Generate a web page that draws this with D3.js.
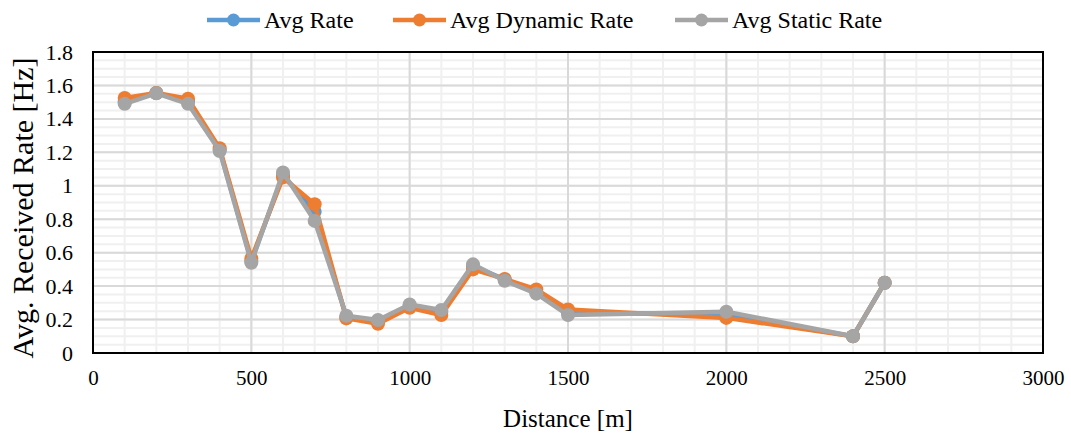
<!DOCTYPE html>
<html>
<head>
<meta charset="utf-8">
<script src="https://cdn.jsdelivr.net/npm/d3@7"></script>
<style>
  body { margin: 0; background: #fff; }
  svg text { font-family: "Liberation Serif", "Times New Roman", serif; fill: #000; }
</style>
</head>
<body>
<svg id="chart" width="1071" height="435"></svg>
<script>
// distances in metres
var distances = [100, 200, 300, 400, 500, 600, 700, 800, 900, 1000, 1100, 1200, 1300, 1400, 1500, 2000, 2400, 2500];
var avgRate = [1.50, 1.555, 1.505, 1.215, 0.55, 1.065, 0.845, 0.215, 0.19, 0.28, 0.245, 0.52, 0.44, 0.365, 0.24, 0.23, 0.10, 0.42];
var avgDynamicRate = [1.525, 1.555, 1.52, 1.225, 0.565, 1.05, 0.89, 0.207, 0.175, 0.27, 0.227, 0.50, 0.443, 0.38, 0.26, 0.21, 0.10, 0.42];
var avgStaticRate = [1.49, 1.553, 1.49, 1.208, 0.54, 1.08, 0.79, 0.223, 0.197, 0.29, 0.257, 0.53, 0.432, 0.355, 0.227, 0.247, 0.10, 0.42];
var xTicks = [0, 500, 1000, 1500, 2000, 2500, 3000];
var yTicks = [0, 0.2, 0.4, 0.6, 0.8, 1, 1.2, 1.4, 1.6, 1.8];
var seriesNames = ['Avg Rate', 'Avg Dynamic Rate', 'Avg Static Rate'];

var colors = ['#5B9BD5', '#ED7D31', '#A5A5A5'];
var series = [avgRate, avgDynamicRate, avgStaticRate].map(function (v, i) {
    return {name: seriesNames[i], values: v, color: colors[i]};
});

var svg = d3.select('#chart');
var plot = {left: 93, right: 1043, top: 52, bottom: 353};
var serif = '"Liberation Serif", "Times New Roman", serif';

var xs = d3.scaleLinear().domain([0, 3000]).range([plot.left, plot.right]);
var ys = d3.scaleLinear().domain([0, 1.8]).range([plot.bottom, plot.top]);

var grid = svg.append('g');
function vlines(vals, color) {
    grid.append('g').selectAll('line').data(vals).enter().append('line')
        .attr('x1', function (d) { return xs(d); }).attr('x2', function (d) { return xs(d); })
        .attr('y1', plot.top).attr('y2', plot.bottom)
        .style('stroke', color).style('stroke-width', 2);
}
function hlines(vals, color) {
    grid.append('g').selectAll('line').data(vals).enter().append('line')
        .attr('x1', plot.left).attr('x2', plot.right)
        .attr('y1', function (d) { return ys(d); }).attr('y2', function (d) { return ys(d); })
        .style('stroke', color).style('stroke-width', 2);
}
// minor grid, then major
vlines(xs.ticks(30), '#F0F0F0');
hlines(ys.ticks(36), '#F0F0F0');
vlines(xTicks, '#D9D9D9');
hlines(yTicks, '#D9D9D9');

// frame
svg.append('rect')
    .attr('x', plot.left).attr('y', plot.top)
    .attr('width', plot.right - plot.left).attr('height', plot.bottom - plot.top)
    .style('fill', 'none').style('stroke', '#000').style('stroke-width', 2);

// axes (labels only)
var xAxis = svg.append('g').attr('transform', 'translate(0,' + (plot.bottom + 17) + ')')
    .call(d3.axisBottom(xs).tickValues(xTicks).tickSize(0).tickPadding(0).tickFormat(d3.format('d')));
var yAxis = svg.append('g').attr('transform', 'translate(73,0)')
    .call(d3.axisLeft(ys).tickValues(yTicks).tickSize(0).tickPadding(0)
        .tickFormat(function (d) { return String(+d.toFixed(1)); }));
[xAxis, yAxis].forEach(function (a) {
    a.select('.domain').remove();
    a.attr('font-family', serif).attr('font-size', 21);
    a.selectAll('text').attr('fill', '#000');
});
yAxis.attr('font-size', 22);

svg.append('text').attr('x', 568).attr('y', 427)
    .attr('text-anchor', 'middle').attr('font-family', serif).attr('font-size', 25).text('Distance [m]');
svg.append('text').attr('transform', 'translate(33,208) rotate(-90)')
    .attr('text-anchor', 'middle').attr('font-family', serif).attr('font-size', 30).text('Avg. Received Rate [Hz]');

// series
var line = d3.line().x(function (d) { return xs(d[0]); }).y(function (d) { return ys(d[1]); });
series.forEach(function (s) {
    var pts = distances.map(function (d, i) { return [d, s.values[i]]; });
    var g = svg.append('g');
    g.append('path').attr('d', line(pts))
        .style('fill', 'none').style('stroke', s.color).style('stroke-width', 4.5)
        .style('stroke-linejoin', 'round').style('stroke-linecap', 'round');
    g.selectAll('circle').data(pts).enter().append('circle')
        .attr('cx', function (d) { return xs(d[0]); })
        .attr('cy', function (d) { return ys(d[1]); })
        .attr('r', 7).style('fill', s.color);
});

// legend
var legendX = [207, 393, 675];
series.forEach(function (s, i) {
    var lg = svg.append('g').attr('transform', 'translate(' + legendX[i] + ',20)');
    lg.append('line').attr('x1', 0).attr('x2', 53).attr('y1', 0).attr('y2', 0)
        .style('stroke', s.color).style('stroke-width', 4.5);
    lg.append('circle').attr('cx', 26.5).attr('cy', 0).attr('r', 6.5).style('fill', s.color);
    lg.append('text').attr('x', 57).attr('y', 8).attr('font-family', serif).attr('font-size', 24).text(s.name);
});
</script>
</body>
</html>
